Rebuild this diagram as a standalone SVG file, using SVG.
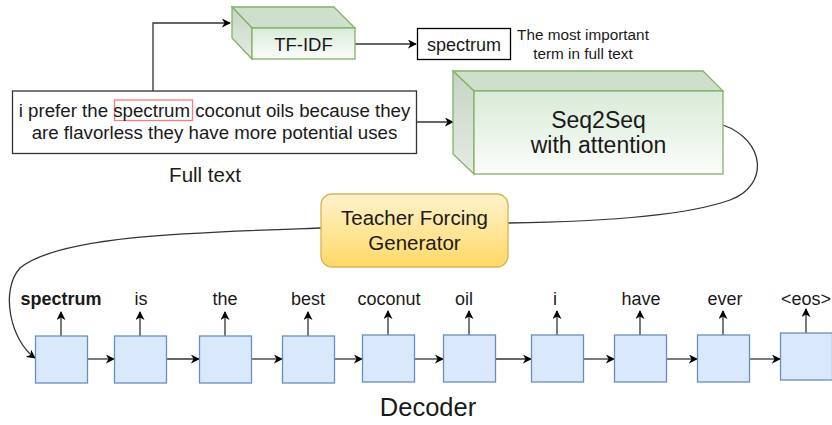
<svg xmlns="http://www.w3.org/2000/svg" width="832" height="425" viewBox="0 0 832 425">
<defs>
<style>
text{font-family:"Liberation Sans",Arial,sans-serif;fill:#1a1a1a}
.ln{fill:none;stroke:#333;stroke-width:1.3}
.dec{fill:#dae8fc;stroke:#6c8ebf;stroke-width:1.3}
.gf{fill:url(#gfront);stroke:#82b366;stroke-width:1.3}
.gt{fill:#cfdfcc;stroke:#82b366;stroke-width:1.3}
.gl{fill:url(#gleft);stroke:#82b366;stroke-width:1.3}
.lbl{font-size:18px;text-anchor:middle}
</style>
<linearGradient id="gfront" x1="0" y1="0" x2="0" y2="1"><stop offset="0" stop-color="#d9ead7"/><stop offset="1" stop-color="#fbfdfb"/></linearGradient>
<linearGradient id="gleft" x1="0" y1="0" x2="0" y2="1"><stop offset="0" stop-color="#c6d4c4"/><stop offset="1" stop-color="#e6ebe5"/></linearGradient>
<linearGradient id="gyel" x1="0" y1="0" x2="0" y2="1"><stop offset="0" stop-color="#fff2cc"/><stop offset="1" stop-color="#ffd966"/></linearGradient>
<marker id="ah" viewBox="0 0 10 10" refX="9" refY="5" markerWidth="9" markerHeight="9" markerUnits="userSpaceOnUse" orient="auto"><path d="M0,0 L10,5 L0,10 L3,5 Z" fill="#000"/></marker>
</defs>
<rect width="832" height="425" fill="#fff"/>

<g id="connectors">
<path class="ln" d="M153,100 V23 H230" marker-end="url(#ah)"/>
<path class="ln" d="M355,44 H416" marker-end="url(#ah)"/>
<path class="ln" d="M417,122 H453" marker-end="url(#ah)"/>
<path class="ln" d="M723,125 C765,140 770,185 730,200 C680,218 580,222 508,223"/>
<path class="ln" d="M321,228 C200,232 60,235 20,268 C0,290 10,340 35,358" marker-end="url(#ah)"/>
<path class="ln" d="M87,359 H114" marker-end="url(#ah)"/>
<path class="ln" d="M166,359 H199" marker-end="url(#ah)"/>
<path class="ln" d="M251,359 H282" marker-end="url(#ah)"/>
<path class="ln" d="M334,359 H362" marker-end="url(#ah)"/>
<path class="ln" d="M414,359 H443" marker-end="url(#ah)"/>
<path class="ln" d="M496,359 H531" marker-end="url(#ah)"/>
<path class="ln" d="M584,359 H614" marker-end="url(#ah)"/>
<path class="ln" d="M666,359 H697" marker-end="url(#ah)"/>
<path class="ln" d="M749,359 H780" marker-end="url(#ah)"/>
<path class="ln" d="M61,336 V312" marker-end="url(#ah)"/>
<path class="ln" d="M140,336 V312" marker-end="url(#ah)"/>
<path class="ln" d="M225,336 V312" marker-end="url(#ah)"/>
<path class="ln" d="M308,336 V312" marker-end="url(#ah)"/>
<path class="ln" d="M388,335 V311" marker-end="url(#ah)"/>
<path class="ln" d="M469,335 V311" marker-end="url(#ah)"/>
<path class="ln" d="M557,335 V311" marker-end="url(#ah)"/>
<path class="ln" d="M640,335 V311" marker-end="url(#ah)"/>
<path class="ln" d="M723,335 V311" marker-end="url(#ah)"/>
<path class="ln" d="M806,333 V309" marker-end="url(#ah)"/>
</g>

<g id="tfidf">
<polygon class="gt" points="232,7 334,7 355,28 252,28"/>
<polygon class="gl" points="232,7 252,28 252,59 232,38"/>
<rect class="gf" x="252" y="28" width="103" height="31"/>
<text x="303.5" y="50.5" font-size="18.5" text-anchor="middle">TF-IDF</text>
</g>

<g id="spectrum-term">
<rect x="417.5" y="28.5" width="93" height="31" fill="#fff" stroke="#000" stroke-width="1.3"/>
<text x="464" y="50.5" font-size="18" text-anchor="middle">spectrum</text>
</g>

<g id="note">
<text x="583" y="40" font-size="15.3" text-anchor="middle">The most important</text>
<text x="583" y="58.5" font-size="15.3" text-anchor="middle">term in full text</text>
</g>

<g id="fulltext">
<rect x="12.5" y="91" width="404" height="62.5" fill="#fff" stroke="#333" stroke-width="1.3"/>
<rect x="114.5" y="100" width="78" height="20.5" fill="none" stroke="#f08080" stroke-width="1.3"/>
<text x="214.5" y="117" font-size="18.7" text-anchor="middle">i prefer the spectrum coconut oils because they</text>
<text x="214.5" y="138.5" font-size="18.7" text-anchor="middle">are flavorless they have more potential uses</text>
<text x="205" y="181.5" font-size="20.5" text-anchor="middle">Full text</text>
</g>

<g id="seq2seq">
<polygon class="gt" points="453,71 703,71 723,91 474,91"/>
<polygon class="gl" points="453,71 474,91 474,174 453,154"/>
<rect class="gf" x="474" y="91" width="249" height="83"/>
<text x="598.5" y="128" font-size="23" text-anchor="middle">Seq2Seq</text>
<text x="598.5" y="153" font-size="23" text-anchor="middle">with attention</text>
</g>

<g id="teacher">
<rect x="321" y="194" width="187" height="73" rx="11" fill="url(#gyel)" stroke="#d6b656" stroke-width="1.3"/>
<text x="414.5" y="225" font-size="20.5" text-anchor="middle">Teacher Forcing</text>
<text x="414.5" y="249.5" font-size="20.5" text-anchor="middle">Generator</text>
</g>

<g id="decoder">
<rect class="dec" x="35.5" y="336" width="52" height="47"/>
<rect class="dec" x="114.5" y="336" width="52" height="47"/>
<rect class="dec" x="199.5" y="336" width="52" height="47"/>
<rect class="dec" x="282.5" y="336" width="52" height="47"/>
<rect class="dec" x="362.5" y="335" width="52" height="47"/>
<rect class="dec" x="443.5" y="335" width="52" height="47"/>
<rect class="dec" x="531.5" y="335" width="52" height="47"/>
<rect class="dec" x="614.5" y="335" width="52" height="47"/>
<rect class="dec" x="697.5" y="335" width="52" height="47"/>
<rect class="dec" x="780.5" y="333" width="52" height="47"/>
<text class="lbl" x="61" y="305" font-weight="bold">spectrum</text>
<text class="lbl" x="141" y="305">is</text>
<text class="lbl" x="225" y="305">the</text>
<text class="lbl" x="308" y="305">best</text>
<text class="lbl" x="389" y="305">coconut</text>
<text class="lbl" x="464" y="305">oil</text>
<text class="lbl" x="555" y="305">i</text>
<text class="lbl" x="641" y="305">have</text>
<text class="lbl" x="725" y="305">ever</text>
<text class="lbl" x="806" y="305">&lt;eos&gt;</text>
<text x="428" y="416" font-size="25.5" text-anchor="middle">Decoder</text>
</g>
</svg>
